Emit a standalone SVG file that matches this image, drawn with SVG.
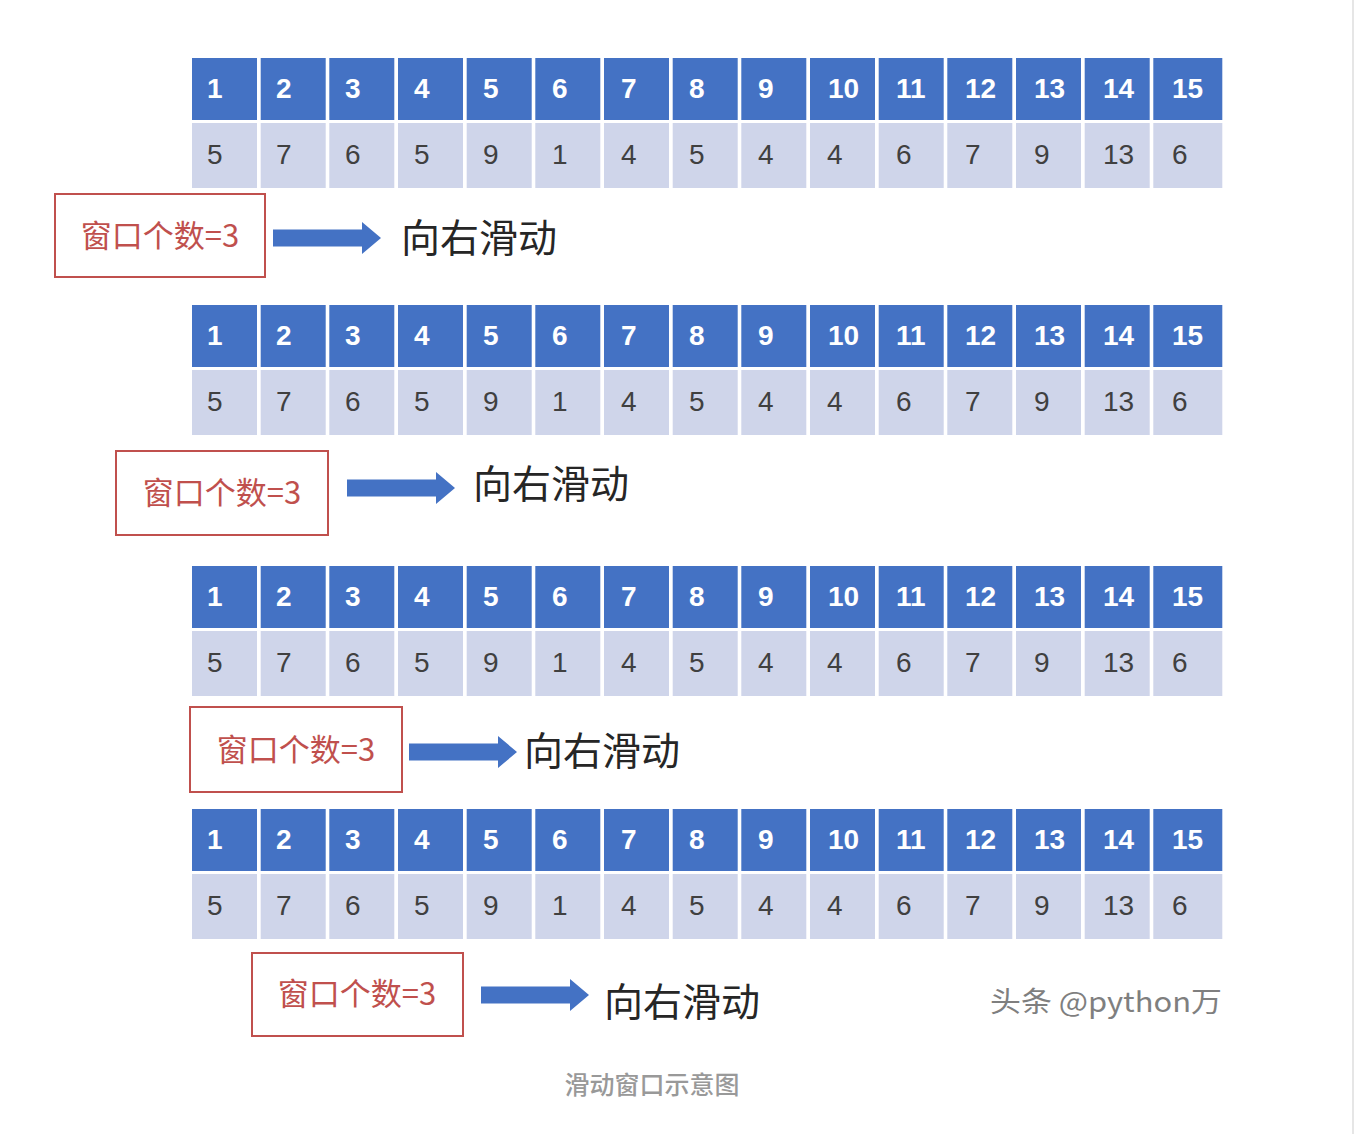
<svg xmlns="http://www.w3.org/2000/svg" width="1362" height="1134" viewBox="0 0 1362 1134">
<style>
.h{fill:#4472c4}
.v{fill:#cfd5ea}
.ht{font-family:"Liberation Sans",Arial,sans-serif;font-size:28px;font-weight:bold;fill:#ffffff}
.vt{font-family:"Liberation Sans",Arial,sans-serif;font-size:28px;fill:#404040}
.box{fill:#ffffff;stroke:#c0504d;stroke-width:2}
.bt{font-family:"Noto Sans CJK SC","Noto Sans",sans-serif;font-size:31px;fill:#c0504d;text-anchor:middle}
.arrow{fill:#4472c4}
.mv{font-family:"Noto Sans CJK SC","Noto Sans",sans-serif;font-size:39px;fill:#262626}
.cap{font-family:"Noto Sans CJK SC","Noto Sans",sans-serif;font-size:25px;font-weight:500;fill:#999999;text-anchor:middle}
.wm{font-family:"Noto Sans CJK SC","Noto Sans",sans-serif;font-size:28px;fill:#555555;opacity:0.75}
</style>
<defs>
<g id="table">
<rect class="h" x="192" y="0" width="65" height="62"/>
<rect class="h" x="260.7" y="0" width="65" height="62"/>
<rect class="h" x="329.3" y="0" width="65" height="62"/>
<rect class="h" x="398" y="0" width="65" height="62"/>
<rect class="h" x="466.7" y="0" width="65" height="62"/>
<rect class="h" x="535.3" y="0" width="65" height="62"/>
<rect class="h" x="604" y="0" width="65" height="62"/>
<rect class="h" x="672.7" y="0" width="65" height="62"/>
<rect class="h" x="741.3" y="0" width="65" height="62"/>
<rect class="h" x="810" y="0" width="65" height="62"/>
<rect class="h" x="878.7" y="0" width="65" height="62"/>
<rect class="h" x="947.3" y="0" width="65" height="62"/>
<rect class="h" x="1016" y="0" width="65" height="62"/>
<rect class="h" x="1084.7" y="0" width="65" height="62"/>
<rect class="h" x="1153.3" y="0" width="69" height="62"/>
<rect class="v" x="192" y="65" width="65" height="65"/>
<rect class="v" x="260.7" y="65" width="65" height="65"/>
<rect class="v" x="329.3" y="65" width="65" height="65"/>
<rect class="v" x="398" y="65" width="65" height="65"/>
<rect class="v" x="466.7" y="65" width="65" height="65"/>
<rect class="v" x="535.3" y="65" width="65" height="65"/>
<rect class="v" x="604" y="65" width="65" height="65"/>
<rect class="v" x="672.7" y="65" width="65" height="65"/>
<rect class="v" x="741.3" y="65" width="65" height="65"/>
<rect class="v" x="810" y="65" width="65" height="65"/>
<rect class="v" x="878.7" y="65" width="65" height="65"/>
<rect class="v" x="947.3" y="65" width="65" height="65"/>
<rect class="v" x="1016" y="65" width="65" height="65"/>
<rect class="v" x="1084.7" y="65" width="65" height="65"/>
<rect class="v" x="1153.3" y="65" width="69" height="65"/>
<text class="ht" y="40"><tspan x="207">1</tspan><tspan x="276">2</tspan><tspan x="345">3</tspan><tspan x="414">4</tspan><tspan x="483">5</tspan><tspan x="552">6</tspan><tspan x="621">7</tspan><tspan x="689">8</tspan><tspan x="758">9</tspan><tspan x="828">10</tspan><tspan x="896">11</tspan><tspan x="965">12</tspan><tspan x="1034">13</tspan><tspan x="1103">14</tspan><tspan x="1172">15</tspan></text>
<text class="vt" y="106"><tspan x="207">5</tspan><tspan x="276">7</tspan><tspan x="345">6</tspan><tspan x="414">5</tspan><tspan x="483">9</tspan><tspan x="552">1</tspan><tspan x="621">4</tspan><tspan x="689">5</tspan><tspan x="758">4</tspan><tspan x="827">4</tspan><tspan x="896">6</tspan><tspan x="965">7</tspan><tspan x="1034">9</tspan><tspan x="1103">13</tspan><tspan x="1172">6</tspan></text>
</g>
<path id="arr" d="M0,-8.5 H89 V-16 L108,0 L89,16 V8.5 H0 Z"/>
</defs>
<rect x="0" y="0" width="1362" height="1134" fill="#ffffff"/>
<rect x="1352" y="0" width="2" height="1134" fill="#e6e6e6"/>

<g id="table1"><use href="#table" y="58"/></g>
<g id="table2"><use href="#table" y="305"/></g>
<g id="table3"><use href="#table" y="566"/></g>
<g id="table4"><use href="#table" y="809"/></g>

<g id="window1"><rect class="box" x="55" y="194" width="210" height="83"/><text class="bt" x="160" y="247">窗口个数=3</text></g>
<g id="window2"><rect class="box" x="116" y="451" width="212" height="84"/><text class="bt" x="222" y="504">窗口个数=3</text></g>
<g id="window3"><rect class="box" x="190" y="707" width="212" height="85"/><text class="bt" x="296" y="761">窗口个数=3</text></g>
<g id="window4"><rect class="box" x="252" y="953" width="211" height="83"/><text class="bt" x="357" y="1005">窗口个数=3</text></g>

<g id="connectors">
<use href="#arr" class="arrow" x="273" y="238"/>
<use href="#arr" class="arrow" x="347" y="488"/>
<use href="#arr" class="arrow" x="409" y="752"/>
<use href="#arr" class="arrow" x="481" y="995"/>
</g>

<g id="labels">
<text class="mv" x="401" y="252">向右滑动</text>
<text class="mv" x="473" y="498">向右滑动</text>
<text class="mv" x="524" y="765">向右滑动</text>
<text class="mv" x="604" y="1016">向右滑动</text>
</g>

<text class="wm" x="990" y="1012" textLength="232" lengthAdjust="spacingAndGlyphs">头条 @python万</text>
<text class="cap" x="652" y="1094">滑动窗口示意图</text>
</svg>
